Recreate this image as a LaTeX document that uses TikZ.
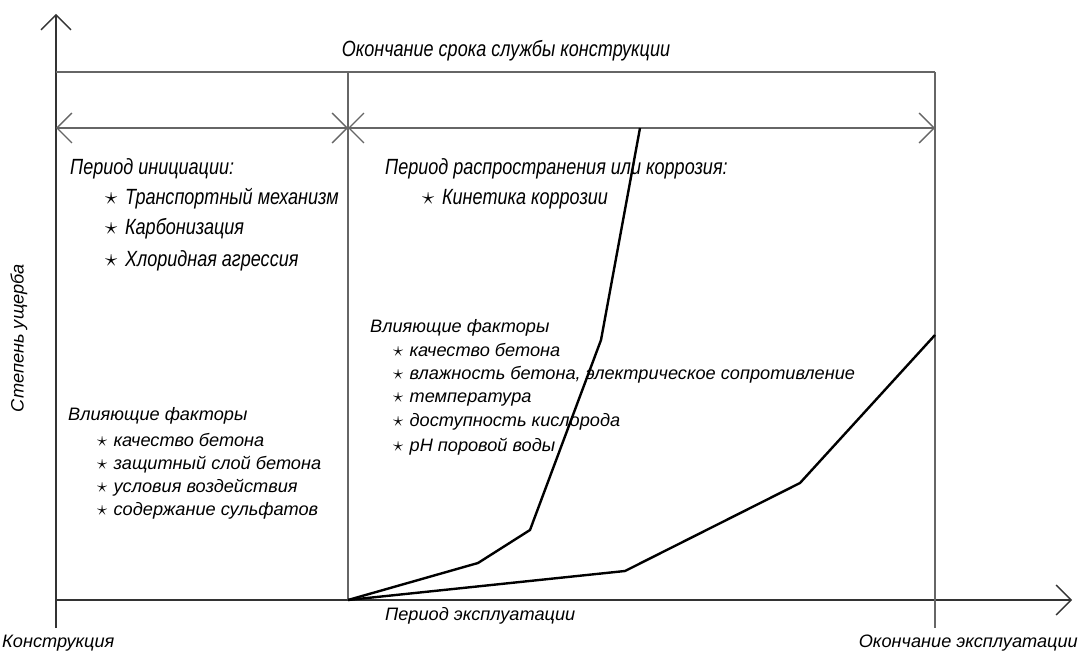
\documentclass[tikz,border=0pt]{standalone}
\usepackage{fontspec}
\usepackage{graphicx}
\usepackage{tikz}
\usetikzlibrary{arrows.meta}
\newfontfamily\gostbig{Liberation Sans}[FakeStretch=0.82]
\newfontfamily\gostsmall{Liberation Sans}[FakeStretch=1.01]

\tikzset{
  barb/.tip={Straight Barb[length=15pt,width=30pt,line width=1.3pt]},
  frame/.style={draw=black!60, line width=1.3pt},
  axis/.style={draw=black!80, line width=1.6pt},
  dimline/.style={frame, barb-barb},
  curve/.style={draw=black, line width=2.4pt, line join=round},
  bigtext/.style={font=\gostbig\itshape\fontsize{22}{26}\selectfont, anchor=base west, inner sep=0pt},
  smalltext/.style={font=\gostsmall\itshape\fontsize{18}{22}\selectfont, anchor=base west, inner sep=0pt, text depth=2pt},
}
\newcommand{\itm}{\scalebox{1.2}{$\star$}\hspace{0.35em}}

\begin{document}
\begin{tikzpicture}[x=1pt,y=-1pt]
        	\useasboundingbox (0,0) rectangle (1081,652);
        	% Axes and frame:
        	\coordinate (O) at (56,600);
        	\coordinate (ybot) at (56,628);
        	\coordinate (ytop) at (56,14);
        	\coordinate (xend) at (1072,600);
        	\coordinate (topL) at (56,72);
        	\coordinate (topM) at (348,72);
        	\coordinate (topR) at (935,72);
        	\coordinate (dimL) at (56,128);
        	\coordinate (dimM) at (348,128);
        	\coordinate (dimR) at (935,128);
        	\coordinate (botM) at (348,600);
        	\coordinate (botR) at (935,628);
        	\draw[axis, -barb] (ybot) -- (ytop);
        	\draw[axis, -barb] (O) -- (xend);
        	\draw[frame] (topL) -- (topR);
        	\draw[frame] (topM) -- (botM);
        	\draw[frame] (topR) -- (botR);
        	\draw[dimline] (dimL) -- (dimM);
        	\draw[dimline] (dimM) -- (dimR);
        	% Damage curves:
        	\draw[curve] (botM) -- (478,563) -- (530,530) -- (601,340) -- (640,128);
        	\draw[curve] (botM) -- (625,571) -- (800,483) -- (935,335);
        	% Texts:
        	\node[bigtext, anchor=base] (life) at (506,57) {Окончание срока службы конструкции};
        	\node[bigtext] (init) at (70,175) {Период инициации:};
        	\node[bigtext] (i1) at (105,205) {\itm Транспортный механизм};
        	\node[bigtext] (i2) at (105,235) {\itm Карбонизация};
        	\node[bigtext] (i3) at (105,266) {\itm Хлоридная агрессия};
        	\node[smalltext] (fl) at (68,420) {Влияющие факторы};
        	\node[smalltext] (fl1) at (97,446) {\itm качество бетона};
        	\node[smalltext] (fl2) at (97,469) {\itm защитный слой бетона};
        	\node[smalltext] (fl3) at (97,492) {\itm условия воздействия};
        	\node[smalltext] (fl4) at (97,515) {\itm содержание сульфатов};
        	\node[bigtext] (prop) at (385,175) {Период распространения или коррозия:};
        	\node[bigtext] (p1) at (422,205) {\itm Кинетика коррозии};
        	\node[smalltext] (fr) at (370,332) {Влияющие факторы};
        	\node[smalltext] (fr1) at (393,356) {\itm качество бетона};
        	\node[smalltext] (fr2) at (393,379) {\itm влажность бетона, электрическое сопротивление};
        	\node[smalltext] (fr3) at (393,402) {\itm температура};
        	\node[smalltext] (fr4) at (393,426) {\itm доступность кислорода};
        	\node[smalltext] (fr5) at (393,451) {\itm pH поровой воды};
        	\node[smalltext, anchor=center, rotate=90] (dmg) at (18,338) {Степень ущерба};
        	\node[smalltext] (use) at (385,620) {Период эксплуатации};
        	\node[smalltext] (cons) at (2,647) {Конструкция};
        	\node[smalltext, anchor=base east] (useend) at (1078,647) {Окончание эксплуатации};
        \end{tikzpicture}
\end{document}
